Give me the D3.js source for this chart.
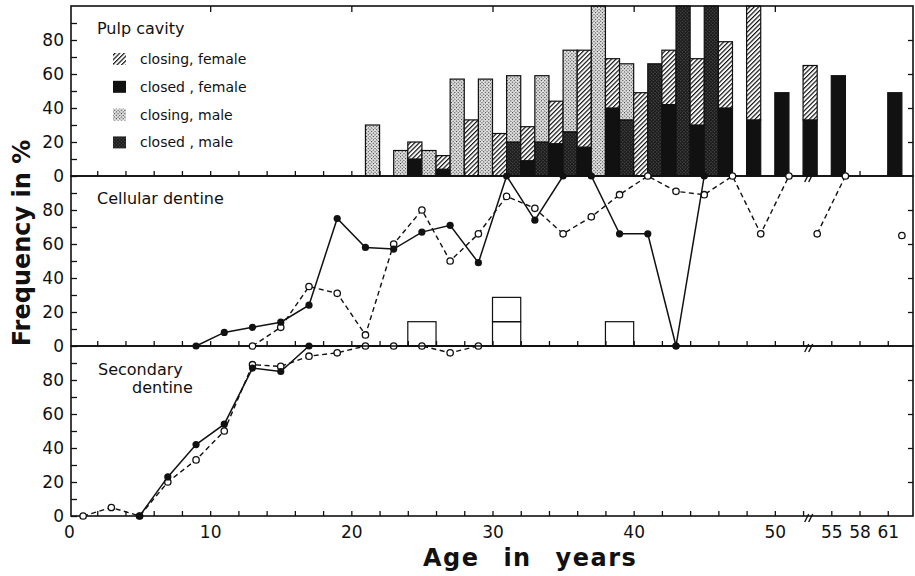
<!DOCTYPE html>
<html lang="en">
<head>
<meta charset="UTF-8">
<title>Pulp cavity and dentine by age</title>
<script src="https://d3js.org/d3.v7.min.js"></script>
<style>
  body{margin:0;background:#fff;}
  text{font-family:"DejaVu Sans",sans-serif;fill:#111;}
  .tick text{font-size:17px;}
  .frame{fill:none;stroke:#111;stroke-width:1.6px;}
  .axis path.domain{display:none;}
  .axis line{stroke:#111;stroke-width:1.3px;}
  .bar{stroke:#111;stroke-width:1.2px;}
  .box{fill:none;stroke:#111;stroke-width:1.2px;}
  .solid{fill:none;stroke:#111;stroke-width:1.5px;}
  .dashed{fill:none;stroke:#111;stroke-width:1.4px;stroke-dasharray:5,3.5;}
  .ptF{fill:#111;}
  .ptM{fill:#fff;stroke:#111;stroke-width:1.3px;}
</style>
</head>
<body>
<svg width="915" height="576"></svg>
<script>
// Pulp cavity: one class every 2 years; male bar drawn at [age, age+1], female at [age+1, age+2]
let pulpClass   = [21,23,25,27,29,31,33,35,37,39,41,43,45,47,49,51,53,57];
let maleClosing = [30,15,15,57,57,39,39,48,100,33,0,0,0,0,0,0,0,0];
let maleClosed  = [0,0,0,0,0,20,20,26,0,33,66,100,100,0,0,0,0,0];
let femClosing  = [0,10,8,33,25,20,25,57,29,49,32,39,39,67,0,32,0,0];
let femClosed   = [0,10,4,0,0,9,19,17,40,0,42,30,40,33,49,33,59,49];

// Cellular dentine (solid = filled dots, dashed = open dots)
let cellAgeF = [9,11,13,15,17,19,21,23,25,27,29,31,33,35,37,39,41,43,45];
let cellF    = [0,8,11,14,24,75,58,57,67,71,49,100,74,100,100,66,66,0,100];
let cellAgeM = [13,15,17,19,21,23,25,27,29,31,33,35,37,39,41,43,45,47,49,51,53,55,57,59];
let cellM    = [0,11,35,31,6.5,60,80,50,66,88,81,66,76,89,100,91,89,100,66,100,66,100,null,65];
let boxStart = [24,30,38];
let boxCount = [1,2,1];
let boxUnit  = 14.3;

// Secondary dentine
let secAgeM = [1,3,5,7,9,11,13,15,17,19,21,23,25,27,29];
let secM    = [0,5,0,20,33,50,89,88,94,96,100,100,100,96,100];
let secAgeF = [5,7,9,11,13,15,17,43];
let secF    = [0,23,42,54,87,85,100,100];

// x axis, compressed after the break
let xTickPos  = [0,10,20,30,40,50,54,56,58];
let xTickText = ['0','10','20','30','40','50','55','58','61'];
let breakPos  = 52.4;

let svg = d3.select('svg');
let left = 71, right = 913, panelH = 170;
let panelTops = [6, 176, 346];
let x = d3.scaleLinear().domain([0, 60]).range([69, 916]);
let ys = panelTops.map(function (t){ return d3.scaleLinear().domain([0, 100]).range([t + panelH, t]); });

// patterns
let defs = svg.append('defs');
let hatch = defs.append('pattern').attr('id', 'hatch').attr('patternUnits', 'userSpaceOnUse')
    .attr('width', 3.2).attr('height', 3.2).attr('patternTransform', 'rotate(45)');
hatch.append('rect').attr('width', 3.2).attr('height', 3.2).attr('fill', '#fff');
hatch.append('line').attr('x1', 0.6).attr('y1', 0).attr('x2', 0.6).attr('y2', 3.2)
    .attr('stroke', '#111').attr('stroke-width', 1.2);
let light = defs.append('pattern').attr('id', 'light').attr('patternUnits', 'userSpaceOnUse')
    .attr('width', 2.4).attr('height', 2.4).attr('patternTransform', 'rotate(45)');
light.append('rect').attr('width', 2.4).attr('height', 2.4).attr('fill', '#e4e4e4');
light.append('rect').attr('width', 1.1).attr('height', 1.1).attr('fill', '#333');
let dark = defs.append('pattern').attr('id', 'dark').attr('patternUnits', 'userSpaceOnUse')
    .attr('width', 2.4).attr('height', 2.4).attr('patternTransform', 'rotate(45)');
dark.append('rect').attr('width', 2.4).attr('height', 2.4).attr('fill', '#1a1a1a');
dark.append('rect').attr('x', 0.3).attr('y', 0.3).attr('width', 0.8).attr('height', 0.8).attr('fill', '#999');

// pulp cavity bars
let yT = ys[0];
let bars = [];
pulpClass.forEach(function (a, i){
    bars.push({x0: a, lo: 0, hi: maleClosed[i], fill: 'url(#dark)'});
    bars.push({x0: a, lo: maleClosed[i], hi: maleClosed[i] + maleClosing[i], fill: 'url(#light)'});
    bars.push({x0: a + 1, lo: 0, hi: femClosed[i], fill: '#111'});
    bars.push({x0: a + 1, lo: femClosed[i], hi: femClosed[i] + femClosing[i], fill: 'url(#hatch)'});
});
svg.append('g').selectAll('rect').data(bars.filter(function (b){ return b.hi > b.lo; }))
    .join('rect').attr('class', 'bar')
    .attr('x', function (b){ return x(b.x0); })
    .attr('width', function (b){ return x(b.x0 + 1) - x(b.x0); })
    .attr('y', function (b){ return yT(b.hi); })
    .attr('height', function (b){ return yT(b.lo) - yT(b.hi); })
    .attr('fill', function (b){ return b.fill; });

// open boxes in cellular dentine panel
let yC = ys[1];
let boxes = [];
boxStart.forEach(function (s, i){
    for (let k = 0; k < boxCount[i]; k++) boxes.push({s: s, k: k});
});
svg.append('g').selectAll('rect').data(boxes).join('rect').attr('class', 'box')
    .attr('x', function (b){ return x(b.s); })
    .attr('width', function (b){ return x(b.s + 2) - x(b.s); })
    .attr('y', function (b){ return yC((b.k + 1) * boxUnit); })
    .attr('height', function (b){ return yC(b.k * boxUnit) - yC((b.k + 1) * boxUnit); });

// frames and axes
panelTops.forEach(function (t, i){
    let y = ys[i];
    svg.append('rect').attr('class', 'frame').attr('x', left).attr('y', t)
        .attr('width', right - left).attr('height', panelH);
    svg.append('g').attr('class', 'axis').attr('transform', 'translate(' + left + ',0)')
        .call(d3.axisLeft(y).tickValues(d3.range(0, 100, 10)).tickSize(-6).tickPadding(7)
            .tickFormat(function (d){ return d % 20 === 0 ? d : ''; }));
    svg.append('g').attr('class', 'axis').attr('transform', 'translate(' + right + ',0)')
        .call(d3.axisRight(y).tickValues([20, 40, 60, 80]).tickSize(-5).tickFormat(''));
    svg.append('g').attr('class', 'axis').attr('transform', 'translate(0,' + (t + panelH) + ')')
        .call(d3.axisBottom(x).tickValues(d3.range(2, 60, 2)).tickSize(-5).tickFormat(''));
    // axis break marks
    let bx = x(breakPos), by = t + panelH;
    [-2, 2].forEach(function (o){
        svg.append('line').attr('x1', bx + o - 2).attr('y1', by + 6).attr('x2', bx + o + 2).attr('y2', by - 2)
            .attr('stroke', '#111').attr('stroke-width', 1.4);
    });
});
svg.append('g').attr('class', 'axis').attr('transform', 'translate(0,' + panelTops[0] + ')')
    .call(d3.axisTop(x).tickValues([10, 20, 30, 40, 50]).tickSize(-6).tickFormat(''));
svg.append('g').attr('class', 'axis').attr('transform', 'translate(0,' + (panelTops[2] + panelH) + ')')
    .call(d3.axisBottom(x).tickValues(xTickPos).tickSize(0).tickPadding(10)
        .tickFormat(function (d, i){ return xTickText[i]; }));

// lines and dots
function series(y, ages, vals, filled){
    let pts = ages.map(function (a, i){ return {a: a, v: vals[i]}; });
    let line = d3.line().defined(function (d){ return d.v !== null; })
        .x(function (d){ return x(d.a); }).y(function (d){ return y(d.v); });
    [pts.filter(function (d){ return d.a < breakPos; }), pts.filter(function (d){ return d.a > breakPos; })]
        .forEach(function (part){
            if (part.length > 1) svg.append('path').attr('class', filled ? 'solid' : 'dashed').attr('d', line(part));
        });
    svg.append('g').selectAll('circle').data(pts.filter(function (d){ return d.v !== null; }))
        .join('circle').attr('class', filled ? 'ptF' : 'ptM')
        .attr('cx', function (d){ return x(d.a); }).attr('cy', function (d){ return y(d.v); })
        .attr('r', filled ? 3.6 : 3.2);
}
series(ys[1], cellAgeM, cellM, false);
series(ys[1], cellAgeF, cellF, true);
series(ys[2], secAgeM, secM, false);
series(ys[2], secAgeF, secF, true);

// legend
let legend = [
    {label: 'closing, female', fill: 'url(#hatch)'},
    {label: 'closed , female', fill: '#111'},
    {label: 'closing, male', fill: 'url(#light)'},
    {label: 'closed , male', fill: 'url(#dark)'}
];
svg.append('text').attr('x', 97).attr('y', 34).attr('font-size', 16).text('Pulp cavity');
let lg = svg.append('g').selectAll('g').data(legend).join('g')
    .attr('transform', function (d, i){ return 'translate(113,' + (59 + i * 27.8) + ')'; });
lg.append('rect').attr('x', 0).attr('y', -6).attr('width', 13).attr('height', 12)
    .attr('fill', function (d){ return d.fill; });
lg.append('text').attr('x', 27).attr('y', 5).attr('font-size', 14).text(function (d){ return d.label; });

// panel titles and axis titles
svg.append('text').attr('x', 97).attr('y', 204).attr('font-size', 16).text('Cellular dentine');
svg.append('text').attr('x', 98).attr('y', 375).attr('font-size', 16).text('Secondary');
svg.append('text').attr('x', 132).attr('y', 393).attr('font-size', 16).text('dentine');
svg.append('text').attr('transform', 'translate(30,243) rotate(-90)').attr('text-anchor', 'middle')
    .attr('font-size', 24).attr('font-weight', 'bold').text('Frequency in %');
svg.append('text').attr('x', 423).attr('y', 566).attr('font-size', 24).attr('font-weight', 'bold')
    .attr('letter-spacing', 1.5).attr('word-spacing', 14).text('Age in years');
</script>
</body>
</html>
